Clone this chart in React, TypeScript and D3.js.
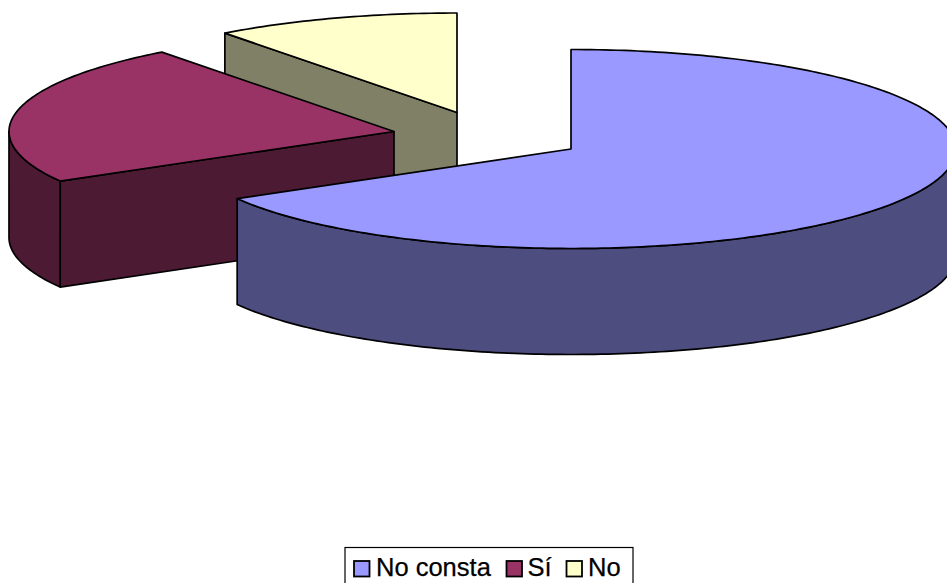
import React from "react";
import * as d3 from "d3";

const categories = ["No consta", "Sí", "No"];
const shares = [66.7, 23.0, 10.3];
const topColors = ["#9999FF", "#993366", "#FFFFCC"];
const wallColors = ["#4D4D80", "#4D1A33", "#808066"];

const WIDTH = 947;
const HEIGHT = 583;
const RX = 385;
const RY = 99.5;
const DEPTH = 106;
// Hub of each exploded wedge on the page.
const hubX = [571, 394, 457];
const hubY = [149, 131.5, 112.5];

const legendSwatchX = [354, 506.5, 566.5];
const legendTextX = [376, 527.5, 588];

const wedges = d3
  .pie<number>()
  .sort(null)
  .value((d) => d)(shares);

const lineGen = d3.line<[number, number]>();

// Maps a clockwise-from-top angle onto the tilted disc of one wedge.
function rimPoint(i: number, angle: number, drop = 0): [number, number] {
  const x = d3.scaleLinear().domain([-1, 1]).range([hubX[i] - RX, hubX[i] + RX]);
  const y = d3.scaleLinear().domain([-1, 1]).range([hubY[i] - RY, hubY[i] + RY]);
  return [x(Math.sin(angle)), y(-Math.cos(angle)) + drop];
}

function arcPoints(i: number, a0: number, a1: number, drop = 0): [number, number][] {
  const steps = Math.max(2, Math.ceil((Math.abs(a1 - a0) * 180) / Math.PI));
  return d3.range(steps + 1).map((k) => rimPoint(i, a0 + ((a1 - a0) * k) / steps, drop));
}

function topFace(i: number, a0: number, a1: number): string {
  return lineGen([[hubX[i], hubY[i]], ...arcPoints(i, a0, a1)]) + "Z";
}

function rimWall(i: number, a0: number, a1: number): string | null {
  const lo = Math.max(a0, Math.PI / 2);
  const hi = Math.min(a1, (Math.PI * 3) / 2);
  if (hi <= lo) return null;
  return lineGen([...arcPoints(i, lo, hi), ...arcPoints(i, hi, lo, DEPTH)]) + "Z";
}

function cutWall(i: number, angle: number): string {
  const [px, py] = rimPoint(i, angle);
  return (
    lineGen([
      [hubX[i], hubY[i]],
      [px, py],
      [px, py + DEPTH],
      [hubX[i], hubY[i] + DEPTH],
    ]) + "Z"
  );
}

const edge = { stroke: "#000", strokeWidth: 1.7, strokeLinejoin: "round" as const };

export default function App() {
  // Painted back to front: the smallest wedge sits behind the others.
  const order = [2, 1, 0];
  return (
    <svg
      width={WIDTH}
      height={HEIGHT}
      viewBox={`0 0 ${WIDTH} ${HEIGHT}`}
      style={{ position: "absolute", left: 0, top: 0, display: "block", background: "#fff" }}
    >
      {order.map((i) => {
        const { startAngle, endAngle } = wedges[i];
        const rim = rimWall(i, startAngle, endAngle);
        return (
          <g key={categories[i]}>
            {Math.sin(startAngle) < -1e-6 && (
              <path d={cutWall(i, startAngle)} fill={wallColors[i]} {...edge} />
            )}
            {Math.sin(endAngle) > 1e-6 && (
              <path d={cutWall(i, endAngle)} fill={wallColors[i]} {...edge} />
            )}
            {rim && <path d={rim} fill={wallColors[i]} {...edge} />}
            <path d={topFace(i, startAngle, endAngle)} fill={topColors[i]} {...edge} />
          </g>
        );
      })}
      <rect x={345} y={547.5} width={288} height={50} fill="#fff" stroke="#000" strokeWidth={1.2} />
      {categories.map((c, i) => (
        <g key={c}>
          <rect
            x={legendSwatchX[i]}
            y={561}
            width={15.5}
            height={15.5}
            fill={topColors[i]}
            stroke="#000"
            strokeWidth={1.8}
          />
          <text
            x={legendTextX[i]}
            y={576}
            fontFamily="'Liberation Sans', Arial, sans-serif"
            fontSize={25.5}
            fill="#000"
            stroke="#000"
            strokeWidth={0.25}
          >
            {c}
          </text>
        </g>
      ))}
    </svg>
  );
}
